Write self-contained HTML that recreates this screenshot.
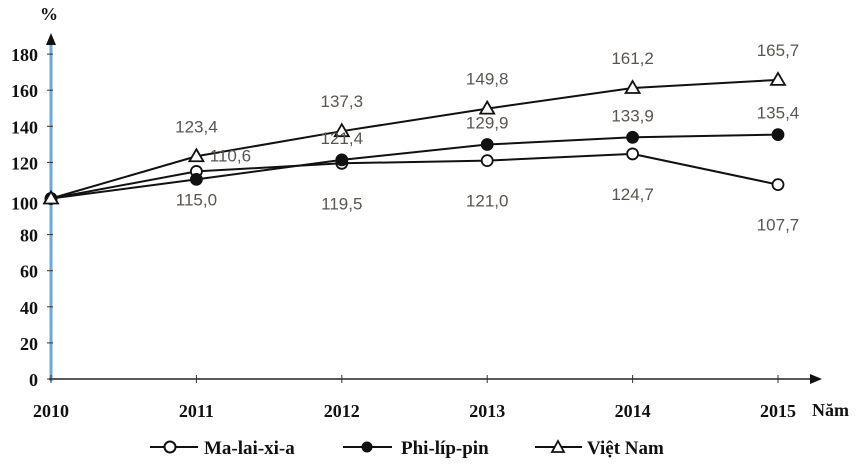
<!DOCTYPE html>
<html><head><meta charset="utf-8"><style>
body{margin:0;background:#fff}
svg{display:block}
.ax{font-family:"Liberation Serif",serif;font-weight:bold;font-size:18px;fill:#111}
.lb{font-family:"Liberation Sans",sans-serif;font-size:17px;fill:#5a5550}
.lg{font-family:"Liberation Serif",serif;font-weight:bold;font-size:19px;fill:#111}
</style></head><body>
<svg id="c" width="868" height="469" viewBox="0 0 868 469">
<g id="axes"></g><g id="series"></g><g id="labels"></g>
<g>
 <g>
  <line x1="150" y1="447" x2="198" y2="447" stroke="#111" stroke-width="2"/>
  <circle cx="170" cy="447" r="5.5" fill="#fff" stroke="#111" stroke-width="2"/>
  <text class="lg" x="204" y="454">Ma-lai-xi-a</text>
 </g>
 <g>
  <line x1="343" y1="447" x2="392" y2="447" stroke="#111" stroke-width="2"/>
  <circle cx="367" cy="447" r="5.5" fill="#111"/>
  <text class="lg" x="401" y="454">Phi-líp-pin</text>
 </g>
 <g>
  <line x1="535" y1="447" x2="582" y2="447" stroke="#111" stroke-width="2"/>
  <path d="M558,441 L564,452 L552,452 Z" fill="#fff" stroke="#111" stroke-width="1.8"/>
  <text class="lg" x="587" y="454">Việt Nam</text>
 </g>
</g>
</svg>
<script>
const years=["2010","2011","2012","2013","2014","2015"];
const yTicks=[0,20,40,60,80,100,120,140,160,180];
const malaysia=[100,115.0,119.5,121.0,124.7,107.7];
const philippines=[100,110.6,121.4,129.9,133.9,135.4];
const vietnam=[100,123.4,137.3,149.8,161.2,165.7];
const malaysiaLabels=["","115,0","119,5","121,0","124,7","107,7"];
const philippinesLabels=["","110,6","121,4","129,9","133,9","135,4"];
const vietnamLabels=["","123,4","137,3","149,8","161,2","165,7"];
const NS="http://www.w3.org/2000/svg";
const x=i=>51+i*145.4;
const y=v=>379-v*1.805;
function mk(tag,attrs,parent){const e=document.createElementNS(NS,tag);for(const k in attrs)e.setAttribute(k,attrs[k]);parent.appendChild(e);return e;}
const ax=document.getElementById('axes');
let e;
e=mk('line',{x1:51,y1:381,x2:51,y2:42,stroke:'#6fa8d6','stroke-width':3},ax);


e=mk('path',{d:'M51,33 L46,45 L56,45 Z',fill:'#111'},ax);


e=mk('line',{x1:49,y1:379,x2:812,y2:379,stroke:'#222','stroke-width':1.5},ax);


e=mk('path',{d:'M822,379 L810,374 L810,384 Z',fill:'#111'},ax);


e=mk('text',{x:40,y:20,class:'ax'},ax);e.textContent='%';


e=mk('text',{x:812,y:416,class:'ax','font-weight':'normal'},ax);e.textContent='Năm';


yTicks.forEach(t=>{
 const l=mk('line',{x1:47,y1:y(t),x2:53,y2:y(t),stroke:'#333','stroke-width':1},ax);
 
 
 const tx=mk('text',{x:38,y:y(t)+(t===100?11:7),class:'ax','text-anchor':'end'},ax);tx.textContent=t;
 
 
});
years.forEach((yr,i)=>{
 const l=mk('line',{x1:x(i),y1:375,x2:x(i),y2:383,stroke:'#333','stroke-width':1},ax);
 
 
 const tx=mk('text',{x:x(i),y:417,class:'ax','text-anchor':'middle'},ax);tx.textContent=yr;
 
 
});
const sg=document.getElementById('series');
const lg=document.getElementById('labels');
function series(vals,name,marker){
 const p=mk('polyline',{points:vals.map((v,i)=>x(i)+','+y(v)).join(' '),fill:'none',stroke:'#111','stroke-width':2},sg);
 
 
 vals.forEach((v,i)=>{
  let m;
  if(marker==='tri'){const cx=x(i),cy=y(v);m=mk('path',{d:`M${cx},${cy-7} L${cx+7},${cy+5} L${cx-7},${cy+5} Z`,fill:'#fff',stroke:'#111','stroke-width':1.8},sg);}
  else m=mk('circle',{cx:x(i),cy:y(v),r:5.5,fill:marker==='open'?'#fff':'#111',stroke:'#111','stroke-width':1.8},sg);
  
  
 });
}
series(malaysia,'malaysia','open');
series(philippines,'philippines','filled');
series(vietnam,'vietnam','tri');
function labels(vals,txt,name,dy){
 vals.forEach((v,i)=>{
  if(!txt[i])return;
  let lx=x(i),ly=y(v)+dy;
  if(name==='philippines'&&i===1){lx=x(i)+34;ly=y(v)-24;}
  if(name==='malaysia'&&i===1){ly=y(v)+28;}
  const t=mk('text',{x:lx,y:ly+6,class:'lb','text-anchor':'middle'},lg);t.textContent=txt[i];
  
  
 });
}
labels(vietnam,vietnamLabels,'vietnam',-30);
labels(philippines,philippinesLabels,'philippines',-22);
labels(malaysia,malaysiaLabels,'malaysia',40);
</script>
</body></html>
